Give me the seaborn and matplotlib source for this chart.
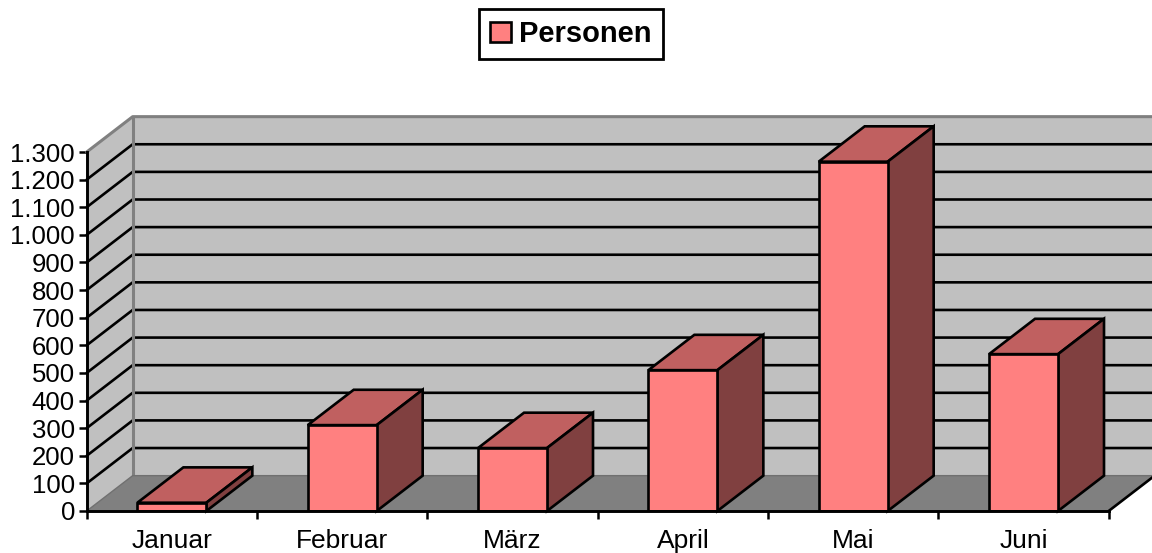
import matplotlib
matplotlib.use("Agg")
import matplotlib.pyplot as plt
import pandas as pd
import seaborn as sns
from matplotlib.patches import Patch, Polygon

months = ["Januar", "Februar", "März", "April", "Mai", "Juni"]
personen = [30, 311, 228, 510, 1265, 568]
y_ticks = list(range(0, 1400, 100))
y_labels = ["0", "100", "200", "300", "400", "500", "600", "700", "800", "900",
            "1.000", "1.100", "1.200", "1.300"]

# depth of the fake 3D box, in data units
DX = 46 / 170.4
DY = 128

FRONT = "#FF8080"
TOP = "#C06060"
SIDE = "#804040"
WALL = "#C0C0C0"
FLOOR = "#808080"
LW = 1.9

sns.set_theme(style="white")
plt.rcParams["font.family"] = ["Liberation Sans", "DejaVu Sans"]

df = pd.DataFrame({"Monat": months, "Personen": personen})

fig = plt.figure(figsize=(11.52, 5.53), dpi=100)
ax = fig.add_axes([86.7 / 1152, 42 / 553, 1022 / 1152, 359 / 553])
ax.patch.set_visible(False)

sns.barplot(data=df, x="Monat", y="Personen", color=FRONT, saturation=1, width=0.405,
            edgecolor="black", linewidth=LW, ax=ax, zorder=5)

x0, x1 = -0.5, 5.5
ymax = y_ticks[-1]
ax.set_xlim(x0, x1)
ax.set_ylim(0, ymax)


def face(points, color, z, edge="none", lw=0):
    ax.add_patch(Polygon(points, closed=True, facecolor=color, edgecolor=edge,
                         linewidth=lw, zorder=z, clip_on=False))


# walls and floor
face([(x0 + DX, DY), (x1 + DX, DY), (x1 + DX, ymax + DY), (x0 + DX, ymax + DY)], WALL, 0)
face([(x0, 0), (x0 + DX, DY), (x0 + DX, ymax + DY), (x0, ymax)], WALL, 0)
face([(x0, 0), (x1, 0), (x1 + DX, DY), (x0 + DX, DY)], FLOOR, 0.5)

# gridlines on both walls
for v in y_ticks[1:-1]:
    ax.plot([x0, x0 + DX, x1 + DX], [v, v + DY, v + DY], color="black", lw=LW,
            zorder=1, clip_on=False, solid_joinstyle="miter")

# wall edges
ax.plot([x0, x0 + DX, x1 + DX], [ymax, ymax + DY, ymax + DY], color=FLOOR, lw=2.2,
        zorder=2, clip_on=False)
ax.plot([x0 + DX, x0 + DX], [DY, ymax + DY], color=FLOOR, lw=2.2, zorder=2, clip_on=False)
ax.plot([x0, x0 + DX, x1 + DX], [0, DY, DY], color="#707070", lw=1.0, zorder=2, clip_on=False)
ax.plot([x1, x1 + DX], [0, DY], color="black", lw=LW, zorder=2, clip_on=False)

# top and side faces taken from the bars seaborn drew
for bar in ax.patches[:len(months)]:
    left = bar.get_x()
    right = left + bar.get_width()
    h = bar.get_height()
    face([(left, h), (right, h), (right + DX, h + DY), (left + DX, h + DY)], TOP, 4, "black", LW)
    face([(right, 0), (right + DX, DY), (right + DX, h + DY), (right, h)], SIDE, 4, "black", LW)

for side in ["top", "right"]:
    ax.spines[side].set_visible(False)
for side in ["left", "bottom"]:
    ax.spines[side].set_color("black")
    ax.spines[side].set_linewidth(2.1)
    ax.spines[side].set_zorder(6)

ax.set_xlabel("")
ax.set_ylabel("")
ax.set_yticks(y_ticks)
ax.set_yticklabels(y_labels)
ax.set_xticks(range(len(months)))
ax.set_xticklabels(months)
ax.set_xticks([x0 + i for i in range(len(months) + 1)], minor=True)
ax.tick_params(axis="y", which="major", left=True, length=5.5, width=1.8, color="black",
               labelsize=18.5, labelcolor="black", pad=3)
ax.tick_params(axis="x", which="major", bottom=False, length=0, labelsize=19,
               labelcolor="black", pad=13)
ax.tick_params(axis="x", which="minor", bottom=True, length=5.5, width=1.8, color="black")

handle = Patch(facecolor=FRONT, edgecolor="black", linewidth=LW)
leg = fig.legend(handles=[handle], labels=["Personen"], loc="center",
                 bbox_to_anchor=(571 / 1152, 1 - 34 / 553), fancybox=False,
                 framealpha=1, edgecolor="black", handlelength=0.7, handleheight=0.7,
                 handletextpad=0.3, borderpad=0.38, borderaxespad=0,
                 prop={"size": 21, "weight": "bold"})
leg.get_frame().set_linewidth(2)
leg.get_texts()[0].set_color("black")

fig.savefig("out.png", dpi=100)
